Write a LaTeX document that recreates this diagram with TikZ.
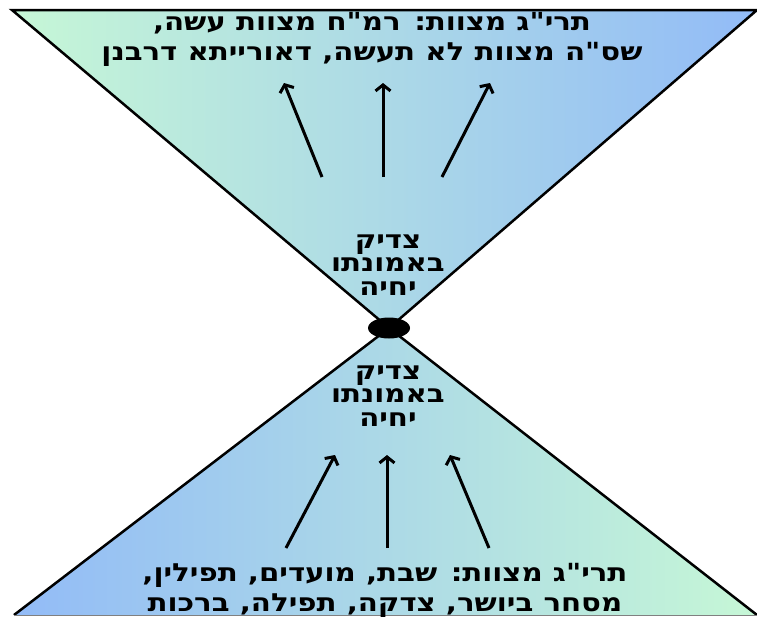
\documentclass[tikz,border=0pt]{standalone}
\usepackage{fontspec}
\setmainfont{DejaVu Sans}[Ligatures=TeXOff,FakeStretch=1.17]
\TeXXeTstate=1
\usetikzlibrary{arrows.meta,shapes.geometric}
\definecolor{mint}{RGB}{198,247,214}
\definecolor{sky}{RGB}{146,187,247}
\begin{document}
\begin{tikzpicture}[x=1pt,y=-1pt,
  side/.style={line width=2.5pt,line join=miter},
  arr/.style={line width=3pt,-{Straight Barb[length=6pt,width=15pt]}},
  txt/.style={font=\fontsize{25}{30}\selectfont\bfseries,align=center,inner sep=0pt},
  mid/.style={font=\fontsize{25}{23.5}\selectfont\bfseries,align=center,inner sep=0pt}]
\useasboundingbox (0,0) rectangle (757,616);
\coordinate (tl) at (12,10);
\coordinate (tr) at (757,10);
\coordinate (c) at (389,328);
\coordinate (bl) at (14,615);
\coordinate (br) at (757,615);
\shade[left color=mint,right color=sky] (tl)--(tr)--(c)--cycle;
\shade[left color=sky,right color=mint] (bl)--(br)--(c)--cycle;
\draw[side] (c)--(tl)--(tr)--cycle;
\draw[side] (bl)--(c)--(br);
\draw[line width=1pt,gray] (bl)--(br);
\node[ellipse,fill=black,minimum width=42pt,minimum height=21pt,inner sep=0pt] (hub) at (c) {};
% top arrows
\coordinate (ta1) at (322,177); \coordinate (tb1) at (284,83);
\coordinate (ta2) at (383,177); \coordinate (tb2) at (383,83);
\coordinate (ta3) at (442,177); \coordinate (tb3) at (490,83);
\draw[arr] (ta1)--(tb1);
\draw[arr] (ta2)--(tb2);
\draw[arr] (ta3)--(tb3);
% bottom arrows
\coordinate (ba1) at (286,548); \coordinate (bb1) at (335,455);
\coordinate (ba2) at (387,548); \coordinate (bb2) at (387,455);
\coordinate (ba3) at (489,548); \coordinate (bb3) at (450,455);
\draw[arr] (ba1)--(bb1);
\draw[arr] (ba2)--(bb2);
\draw[arr] (ba3)--(bb3);
% texts
\node[txt] (toptext) at (372,39) {\beginR תרי"ג מצוות: רמ"ח מצוות עשה,\endR\\\beginR שס"ה מצוות לא תעשה, דאורייתא דרבנן\endR};
\node[mid] (upper) at (388,265) {\beginR צדיק\endR\\\beginR באמונתו\endR\\\beginR יחיה\endR};
\node[mid] (lower) at (388,396) {\beginR צדיק\endR\\\beginR באמונתו\endR\\\beginR יחיה\endR};
\node[txt] (bottext) at (385,590) {\beginR תרי"ג מצוות: שבת, מועדים, תפילין,\endR\\\beginR מסחר ביושר, צדקה, תפילה, ברכות\endR};
\end{tikzpicture}
\end{document}
